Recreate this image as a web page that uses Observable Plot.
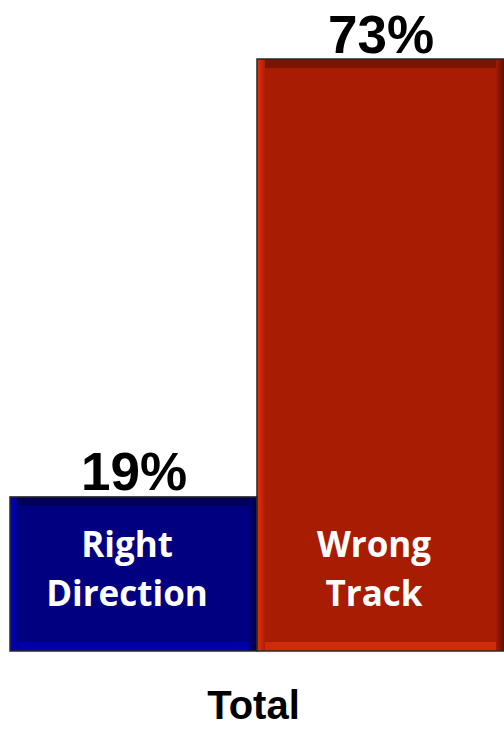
<!DOCTYPE html>
<html><head><meta charset="utf-8">
<script src="https://cdn.jsdelivr.net/npm/d3@7"></script>
<script src="https://cdn.jsdelivr.net/npm/@observablehq/plot@0.6"></script>
<style>body{margin:0;background:#fff;} svg{display:block;}</style>
</head><body><div id="chart"></div>
<script>
const categories = ["Right Direction", "Wrong Track"];
const values = [19, 73];
const valueLabels = ["19%", "73%"];
const barLabels = ["Right\nDirection", "Wrong\nTrack"];
const groupLabel = "Total";
const baseColors = ["#000080", "#A81C04"];
const lightColors = ["#0000D0", "#E8320C"];
const darkColors = ["#000040", "#5E0F02"];
const topColors = ["#00005C", "#7A1503"];
const bottomColors = ["#0000A8", "#D02A08"];

const data = categories.map((c, i) => ({
  category: c, value: values[i], label: valueLabels[i], text: barLabels[i],
  color: baseColors[i], grad: `url(#grad${i})`, top: topColors[i], bottom: bottomColors[i]
}));

const chart = Plot.plot({
  width: 504, height: 729,
  marginLeft: 10, marginRight: 0, marginTop: 59, marginBottom: 78,
  x: {domain: categories, padding: 0, axis: null},
  y: {domain: [0, 73], axis: null},
  color: {type: "identity"},
  marks: [
    Plot.barY(data, {x: "category", y: "value", fill: "grad"}),
    Plot.barY(data, {x: "category", y1: "value", y2: "value", fill: "top", insetBottom: -9, insetLeft: 8, insetRight: 8}),
    Plot.barY(data, {x: "category", y1: 0, y2: 0, fill: "bottom", insetTop: -9, insetLeft: 8, insetRight: 8}),
    Plot.barY(data, {x: "category", y: "value", fill: "color", inset: 9}),
    Plot.barY(data, {x: "category", y: "value", fill: "none", stroke: "#2a2a2a", strokeWidth: 1.5}),
    Plot.text(data, {x: "category", y: "value", text: "label", lineAnchor: "bottom", dy: -7,
      fontSize: 53, fontWeight: "bold", fontFamily: "Liberation Sans, Arial, sans-serif", fill: "#000"}),
    Plot.text(data, {x: "category", y: 0, text: "text", lineAnchor: "bottom", dy: -46, dx: -7,
      lineHeight: 1.4, fontSize: 35, fontWeight: "bold", fontFamily: "Open Sans, sans-serif", fill: "#fff"}),
    Plot.text([groupLabel], {frameAnchor: "bottom", text: d => d, lineAnchor: "bottom", dy: 67, dx: -4,
      fontSize: 40, fontWeight: "bold", fontFamily: "Liberation Sans, Arial, sans-serif", fill: "#000"})
  ]
});

const svg = d3.select(chart);
const defs = svg.insert("defs", ":first-child");
baseColors.forEach((c, i) => {
  const g = defs.append("linearGradient").attr("id", `grad${i}`).attr("x1", 0).attr("x2", 1).attr("y1", 0).attr("y2", 0);
  g.append("stop").attr("offset", 0).attr("stop-color", lightColors[i]);
  g.append("stop").attr("offset", 0.035).attr("stop-color", c);
  g.append("stop").attr("offset", 0.965).attr("stop-color", c);
  g.append("stop").attr("offset", 1).attr("stop-color", darkColors[i]);
});
document.getElementById("chart").appendChild(chart);
</script>
</body></html>
